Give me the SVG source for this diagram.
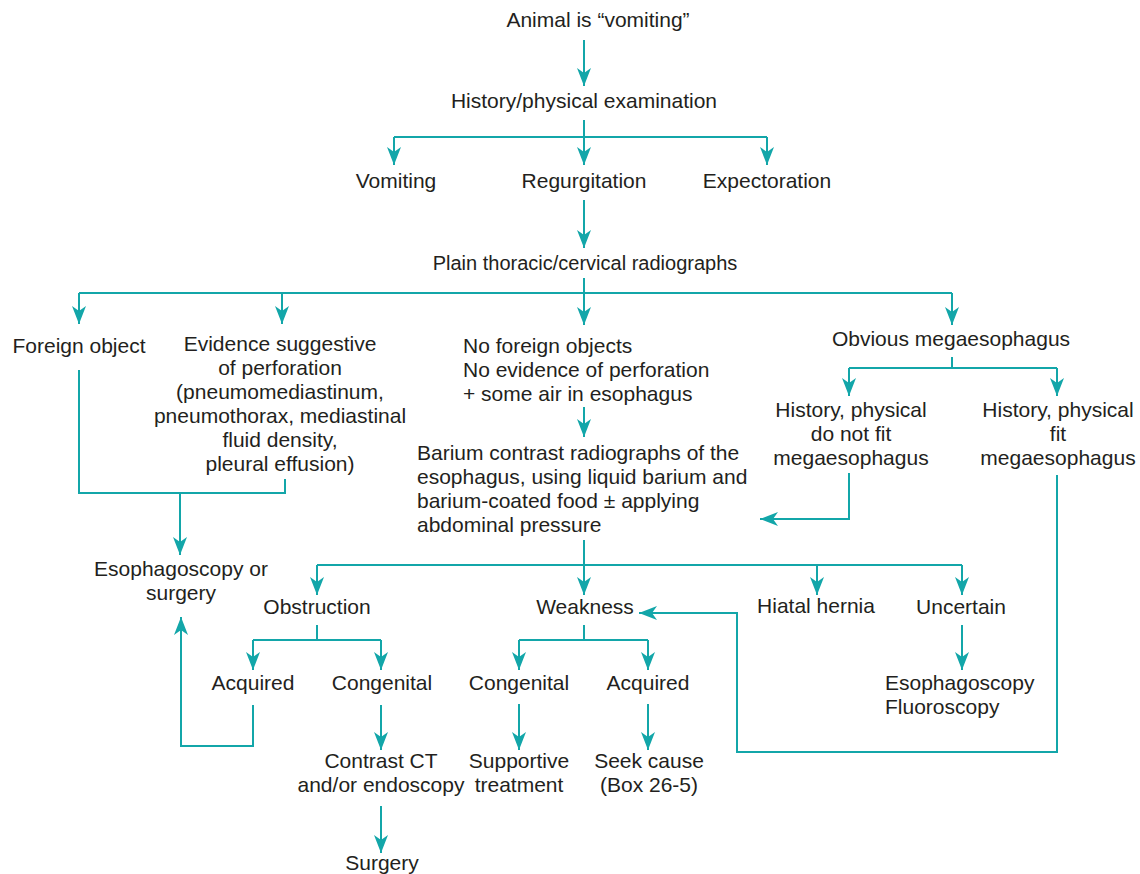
<svg xmlns="http://www.w3.org/2000/svg" width="1140" height="874" viewBox="0 0 1140 874">
  <style>
    text { font-family: "Liberation Sans", Arial, Helvetica, sans-serif; font-size: 21px; fill: #231f20; }
    .c { text-anchor: middle; }
    .l { text-anchor: start; }
    .small { font-size: 20px; }
    .edge { fill: none; stroke: #13a6a9; stroke-width: 2; }
    .arrow { marker-end: url(#head); }
  </style>
  <defs>
    <marker id="head" viewBox="0 0 18 14" refX="18" refY="7" markerWidth="18" markerHeight="14" markerUnits="userSpaceOnUse" orient="auto">
      <path d="M0,0 L18,7 L0,14 L5,7 Z" fill="#13a6a9"/>
    </marker>
  </defs>
  <rect width="1140" height="874" fill="#ffffff"/>

  <g id="connectors">
    <!-- top chain -->
    <path class="edge arrow" d="M584,40 V86"/>
    <path class="edge" d="M584,120 V137 M394,137 H767"/>
    <path class="edge arrow" d="M394,137 V165"/>
    <path class="edge arrow" d="M584,137 V165"/>
    <path class="edge arrow" d="M767,137 V165"/>
    <path class="edge arrow" d="M584,200 V248"/>

    <!-- radiograph split -->
    <path class="edge" d="M584,278 V293 M79,293 H952"/>
    <path class="edge arrow" d="M79,293 V324"/>
    <path class="edge arrow" d="M282,293 V324"/>
    <path class="edge arrow" d="M584,293 V325"/>
    <path class="edge arrow" d="M952,293 V325"/>

    <!-- foreign object / perforation to esophagoscopy -->
    <path class="edge" d="M79,370 V493 H285 V479"/>
    <path class="edge arrow" d="M180,493 V555"/>

    <!-- to barium study -->
    <path class="edge arrow" d="M584,407 V437"/>

    <!-- megaesophagus split -->
    <path class="edge" d="M952,357 V368 M849,368 H1057"/>
    <path class="edge arrow" d="M849,368 V396"/>
    <path class="edge arrow" d="M1057,368 V396"/>
    <path class="edge arrow" d="M849,473 V519 H760"/>
    <path class="edge arrow" d="M1057,475 V752 H737 V613 H639"/>

    <!-- barium result split -->
    <path class="edge" d="M584,540 V565 M317,565 H962"/>
    <path class="edge arrow" d="M317,565 V595"/>
    <path class="edge arrow" d="M584,565 V595"/>
    <path class="edge arrow" d="M817,565 V595"/>
    <path class="edge arrow" d="M962,565 V595"/>

    <!-- obstruction -->
    <path class="edge" d="M317,625 V640 M253,640 H381"/>
    <path class="edge arrow" d="M253,640 V670"/>
    <path class="edge arrow" d="M381,640 V670"/>
    <path class="edge arrow" d="M253,705 V746 H181 V617"/>
    <path class="edge arrow" d="M381,705 V750"/>
    <path class="edge arrow" d="M381,806 V853"/>

    <!-- weakness -->
    <path class="edge" d="M584,625 V640 M519,640 H648"/>
    <path class="edge arrow" d="M519,640 V670"/>
    <path class="edge arrow" d="M648,640 V670"/>
    <path class="edge arrow" d="M519,704 V750"/>
    <path class="edge arrow" d="M648,704 V750"/>

    <!-- uncertain -->
    <path class="edge arrow" d="M962,625 V670"/>
  </g>

  <g id="n-start"><text class="c" x="598" y="27">Animal is “vomiting”</text></g>
  <g id="n-history"><text class="c" x="584" y="108">History/physical examination</text></g>
  <g id="n-vomiting"><text class="c" x="396" y="188">Vomiting</text></g>
  <g id="n-regurgitation"><text class="c" x="584" y="188">Regurgitation</text></g>
  <g id="n-expectoration"><text class="c" x="767" y="188">Expectoration</text></g>
  <g id="n-radiographs"><text class="c small" x="585" y="270">Plain thoracic/cervical radiographs</text></g>

  <g id="n-foreign"><text class="c" x="79" y="353">Foreign object</text></g>
  <g id="n-perforation">
    <text class="c" x="280" y="351">Evidence suggestive</text>
    <text class="c" x="280" y="375">of perforation</text>
    <text class="c" x="280" y="399">(pneumomediastinum,</text>
    <text class="c" x="280" y="423">pneumothorax, mediastinal</text>
    <text class="c" x="280" y="447">fluid density,</text>
    <text class="c" x="280" y="471">pleural effusion)</text>
  </g>
  <g id="n-no-foreign">
    <text class="l" x="463" y="353">No foreign objects</text>
    <text class="l" x="463" y="377">No evidence of perforation</text>
    <text class="l" x="463" y="401">+ some air in esophagus</text>
  </g>
  <g id="n-barium">
    <text class="l" x="417" y="460">Barium contrast radiographs of the</text>
    <text class="l" x="417" y="484">esophagus, using liquid barium and</text>
    <text class="l" x="417" y="508">barium-coated food ± applying</text>
    <text class="l" x="417" y="532">abdominal pressure</text>
  </g>
  <g id="n-megaesophagus"><text class="c" x="951" y="346">Obvious megaesophagus</text></g>
  <g id="n-not-fit">
    <text class="c" x="851" y="417">History, physical</text>
    <text class="c" x="851" y="441">do not fit</text>
    <text class="c" x="851" y="465">megaesophagus</text>
  </g>
  <g id="n-fit">
    <text class="c" x="1058" y="417">History, physical</text>
    <text class="c" x="1058" y="441">fit</text>
    <text class="c" x="1058" y="465">megaesophagus</text>
  </g>

  <g id="n-esophagoscopy-surgery">
    <text class="c" x="181" y="576">Esophagoscopy or</text>
    <text class="c" x="181" y="600">surgery</text>
  </g>
  <g id="n-obstruction"><text class="c" x="317" y="614">Obstruction</text></g>
  <g id="n-weakness"><text class="c" x="585" y="614">Weakness</text></g>
  <g id="n-hiatal"><text class="c" x="816" y="613">Hiatal hernia</text></g>
  <g id="n-uncertain"><text class="c" x="961" y="614">Uncertain</text></g>

  <g id="n-obs-acquired"><text class="c" x="253" y="690">Acquired</text></g>
  <g id="n-obs-congenital"><text class="c" x="382" y="690">Congenital</text></g>
  <g id="n-weak-congenital"><text class="c" x="519" y="690">Congenital</text></g>
  <g id="n-weak-acquired"><text class="c" x="648" y="690">Acquired</text></g>
  <g id="n-scopy">
    <text class="l" x="885" y="690">Esophagoscopy</text>
    <text class="l" x="885" y="714">Fluoroscopy</text>
  </g>

  <g id="n-contrast-ct">
    <text class="c" x="381" y="768">Contrast CT</text>
    <text class="c" x="381" y="792">and/or endoscopy</text>
  </g>
  <g id="n-supportive">
    <text class="c" x="519" y="768">Supportive</text>
    <text class="c" x="519" y="792">treatment</text>
  </g>
  <g id="n-seek-cause">
    <text class="c" x="649" y="768">Seek cause</text>
    <text class="c" x="649" y="792">(Box 26-5)</text>
  </g>
  <g id="n-surgery"><text class="c" x="382" y="870">Surgery</text></g>
</svg>
